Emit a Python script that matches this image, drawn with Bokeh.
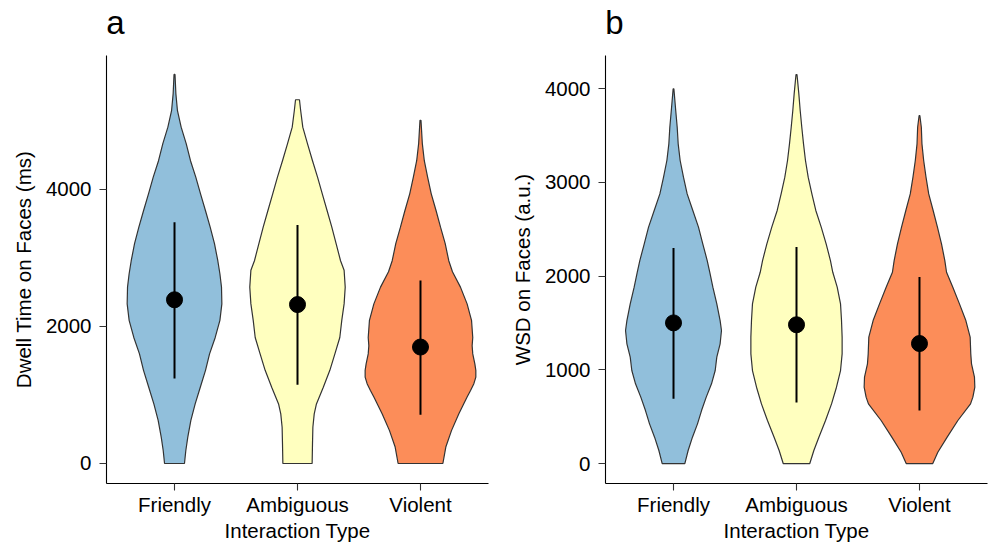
from bokeh.plotting import figure
from bokeh.layouts import row
from bokeh.models import Range1d, FixedTicker, LinearAxis
from bokeh.embed import file_html
from bokeh.resources import INLINE

categories = ["Friendly", "Ambiguous", "Violent"]
colors = ["#91BFDB", "#FFFFBF", "#FC8D59"]

# ---- panel a: dwell time on faces (ms); violin profiles (value, half-width in category units)
dwell_friendly_y = [0, 190, 385, 630, 870, 1110, 1360, 1600, 1840, 2090, 2330, 2575, 2770, 2960, 3210, 3450, 3690, 3940, 4180, 4420, 4670, 4910, 5150, 5400, 5680]
dwell_friendly_w = [0.081, 0.092, 0.108, 0.133, 0.168, 0.209, 0.252, 0.285, 0.331, 0.369, 0.385, 0.382, 0.369, 0.352, 0.325, 0.290, 0.252, 0.211, 0.173, 0.130, 0.095, 0.054, 0.024, 0.011, 0.004]
dwell_ambiguous_y = [0, 290, 530, 725, 870, 1110, 1360, 1600, 1840, 2090, 2330, 2575, 2820, 2960, 3210, 3450, 3690, 3940, 4180, 4420, 4670, 4910, 5150, 5310]
dwell_ambiguous_w = [0.119, 0.122, 0.125, 0.136, 0.154, 0.209, 0.263, 0.304, 0.344, 0.360, 0.379, 0.388, 0.379, 0.350, 0.314, 0.279, 0.241, 0.201, 0.163, 0.122, 0.081, 0.043, 0.026, 0.016]
dwell_violent_y = [0, 240, 480, 725, 970, 1065, 1165, 1260, 1360, 1455, 1600, 1720, 1840, 2090, 2330, 2575, 2800, 2960, 3210, 3450, 3690, 3940, 4180, 4420, 4670, 5010]
dwell_violent_w = [0.182, 0.206, 0.252, 0.312, 0.379, 0.407, 0.434, 0.450, 0.450, 0.442, 0.425, 0.420, 0.425, 0.415, 0.379, 0.325, 0.260, 0.230, 0.201, 0.163, 0.127, 0.087, 0.058, 0.031, 0.015, 0.004]
dwell_mean = [2390, 2320, 1700]
dwell_lo = [1240, 1150, 710]
dwell_hi = [3520, 3480, 2670]
dwell_ticks = [0, 2000, 4000]

# ---- panel b: WSD on faces (a.u.)
wsd_friendly_y = [0, 139, 281, 423, 565, 708, 850, 992, 1135, 1277, 1419, 1525, 1703, 1881, 2040, 2165, 2343, 2521, 2699, 2876, 3054, 3232, 3410, 3587, 3765, 3996]
wsd_friendly_w = [0.092, 0.119, 0.154, 0.195, 0.228, 0.266, 0.309, 0.339, 0.352, 0.379, 0.390, 0.379, 0.352, 0.320, 0.295, 0.274, 0.238, 0.203, 0.157, 0.111, 0.081, 0.054, 0.038, 0.030, 0.018, 0.003]
wsd_ambiguous_y = [0, 139, 281, 459, 636, 814, 992, 1170, 1348, 1525, 1703, 1881, 2040, 2165, 2343, 2521, 2699, 2876, 3054, 3232, 3410, 3587, 3765, 3943, 4149]
wsd_ambiguous_w = [0.108, 0.141, 0.182, 0.236, 0.285, 0.325, 0.358, 0.371, 0.371, 0.366, 0.358, 0.331, 0.295, 0.276, 0.241, 0.201, 0.157, 0.125, 0.095, 0.073, 0.057, 0.043, 0.030, 0.019, 0.004]
wsd_violent_y = [0, 120, 281, 459, 636, 708, 814, 921, 1063, 1170, 1348, 1525, 1703, 1881, 2040, 2165, 2343, 2521, 2699, 2876, 3054, 3232, 3410, 3587, 3712]
wsd_violent_w = [0.108, 0.149, 0.225, 0.312, 0.415, 0.434, 0.450, 0.447, 0.423, 0.417, 0.412, 0.377, 0.325, 0.271, 0.220, 0.206, 0.179, 0.146, 0.111, 0.075, 0.053, 0.034, 0.020, 0.015, 0.003]
wsd_mean = [1500, 1480, 1280]
wsd_lo = [690, 650, 565]
wsd_hi = [2300, 2310, 1990]
wsd_ticks = [0, 1000, 2000, 3000, 4000]

FONT = "Liberation Sans"
LETTER_POS = 0.52  # panel letter anchor (x units), just right of the frame edge


def make_panel(letter, ylabel, yr, ticks, profiles, mean, lo, hi, border_left, border_right):
    xr = Range1d(0.447, 3.553)
    p = figure(width=495, height=544, x_range=xr, y_range=Range1d(*yr),
               output_backend="svg", toolbar_location=None,
               min_border_left=border_left, min_border_right=border_right,
               min_border_top=55, min_border_bottom=61)
    p.outline_line_color = None
    p.grid.visible = False
    p.background_fill_color = "white"
    p.border_fill_color = "white"

    xs, ys = [], []
    for i, (vy, vw) in enumerate(profiles):
        c = i + 1
        xs.append([c + w for w in vw] + [c - w for w in reversed(vw)])
        ys.append(list(vy) + list(reversed(vy)))
    p.patches(xs, ys, fill_color=colors, line_color="#333333", line_width=1.2)

    idx = [1, 2, 3]
    p.segment(x0=idx, y0=lo, x1=idx, y1=hi, line_color="black", line_width=2)
    p.scatter(x=idx, y=mean, size=16, fill_color="black", line_color="black")

    for ax in (p.xaxis[0], p.yaxis[0]):
        ax.axis_line_color = "black"
        ax.axis_line_width = 1.1
        ax.major_tick_line_color = "#333333"
        ax.major_tick_line_width = 1.1
        ax.major_tick_out = 7
        ax.major_tick_in = 0
        ax.minor_tick_line_color = None
        ax.major_label_text_font = FONT
        ax.major_label_text_font_size = "20.5px"
        ax.major_label_text_color = "black"
        ax.axis_label_text_font = FONT
        ax.axis_label_text_font_size = "20.5px"
        ax.axis_label_text_font_style = "normal"
        ax.axis_label_text_color = "black"

    p.xaxis.ticker = FixedTicker(ticks=idx)
    p.xaxis.major_label_overrides = {i + 1: c for i, c in enumerate(categories)}
    p.xaxis.axis_label = "Interaction Type"
    p.xaxis.major_label_standoff = 2
    p.xaxis.axis_label_standoff = 0

    p.yaxis.ticker = FixedTicker(ticks=ticks)
    p.yaxis.axis_label = ylabel
    p.yaxis.major_label_standoff = 8
    p.yaxis.axis_label_standoff = 8

    # panel letter, drawn as a bare label on an invisible top axis
    top = LinearAxis(ticker=FixedTicker(ticks=[LETTER_POS]),
                     major_label_overrides={LETTER_POS: letter},
                     axis_line_color=None, major_tick_line_color=None,
                     minor_tick_line_color=None, major_tick_out=0, major_tick_in=0,
                     major_label_standoff=15, major_label_text_font=FONT,
                     major_label_text_font_size="33px", major_label_text_color="black")
    p.add_layout(top, "above")
    return p


pa = make_panel("a", "Dwell Time on Faces (ms)", (-292, 5956), dwell_ticks,
                [(dwell_friendly_y, dwell_friendly_w), (dwell_ambiguous_y, dwell_ambiguous_w),
                 (dwell_violent_y, dwell_violent_w)],
                dwell_mean, dwell_lo, dwell_hi, 106, 7)
pb = make_panel("b", "WSD on Faces (a.u.)", (-213, 4352), wsd_ticks,
                [(wsd_friendly_y, wsd_friendly_w), (wsd_ambiguous_y, wsd_ambiguous_w),
                 (wsd_violent_y, wsd_violent_w)],
                wsd_mean, wsd_lo, wsd_hi, 110, 3)

layout = row(pa, pb, spacing=0)
open("out.html", "w").write(file_html(layout, INLINE))
